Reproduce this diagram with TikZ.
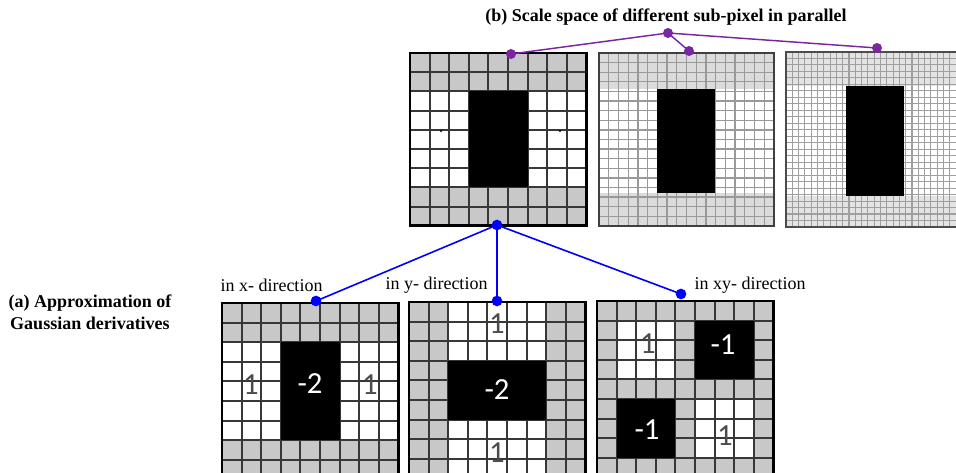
\documentclass[tikz,border=0pt]{standalone}
\usepackage{fontspec}
\setmainfont{Liberation Serif}
\newfontfamily\cellfont{Carlito}
\usepackage{xcolor}
\usetikzlibrary{positioning}
\definecolor{linkpurple}{RGB}{122,38,160}
\definecolor{cellgray}{RGB}{200,200,200}
\definecolor{gridline}{RGB}{55,55,55}

\begin{document}
\begin{tikzpicture}[
    x=0.75pt, y=-0.75pt,
    dirtext/.style={font=\fontsize{13.5}{16}\selectfont, inner sep=0pt},
    captext/.style={font=\fontsize{13.5}{16.5}\selectfont\bfseries, align=center, inner sep=0pt},
    num/.style={font=\cellfont\fontsize{23}{23}\selectfont, inner sep=0pt},
    pdot/.style={circle, fill=linkpurple, minimum size=7.5pt, inner sep=0pt},
    bdot/.style={circle, fill=blue, minimum size=8pt, inner sep=0pt},
    plink/.style={linkpurple, line width=1.1pt},
    blink/.style={blue, line width=1.2pt},
    cellline/.style={gridline, line width=1.5pt}
]
    \useasboundingbox (0,0) rectangle (956,473);
    \clip (0,0) rectangle (956,473);

    % Scale space, pixel size 1
    \fill[cellgray] (410,53) rectangle (586.4,91.4);
    \fill[cellgray] (410,187.4) rectangle (586.4,225.8);
    \foreach \i in {1,...,8} {
        \draw[cellline] (410+\i*19.6,53) -- (410+\i*19.6,225.8);
        \draw[cellline] (410,53+\i*19.2) -- (586.4,53+\i*19.2);
    }
    \fill (468.8,91.4) rectangle (527.6,187.4);
    \fill (441,131) circle (1.2);
    \fill (560,131) circle (1.2);
    \draw[black, line width=2pt] (410,53) rectangle (586.4,225.8);

    % Scale space, pixel size 1/2
    \fill[gray!28] (599,53) rectangle (774,89);
    \fill[gray!28] (599,193) rectangle (774,226);
    \foreach \i in {1,...,17} {
        \draw[gray!80, line width=1pt] (599+\i*9.72,53) -- (599+\i*9.72,226);
        \draw[gray!80, line width=1pt] (599,53+\i*9.61) -- (774,53+\i*9.61);
    }
    \fill (657,89) rectangle (715,193);
    \draw[black!75, line width=1.6pt] (599,53) rectangle (774,226);

    % Scale space, pixel size 1/3
    \fill[gray!22] (786,52) rectangle (956,86);
    \fill[gray!22] (786,196) rectangle (956,227);
    \foreach \i in {1,...,26} {
        \draw[gray!75, line width=0.8pt] (786+\i*6.3,52) -- (786+\i*6.3,227);
        \draw[gray!75, line width=0.8pt] (786,52+\i*6.48) -- (956,52+\i*6.48);
    }
    \fill (846,86) rectangle (904,196);
    \draw[black!70, line width=1.3pt] (786,52) rectangle (960,227);

    % Second derivative in x
    \fill[cellgray] (222,303) rectangle (398.4,342.2);
    \fill[cellgray] (222,440.2) rectangle (398.4,479.4);
    % Second derivative in y
    \fill[cellgray] (409,302) rectangle (448.2,478.4);
    \fill[cellgray] (546.2,302) rectangle (585.4,478.4);
    % Mixed derivative
    \fill[cellgray] (597,301) rectangle (773.4,477.4);
    \fill[white] (616.6,320.6) rectangle (675.4,379.4);
    \fill[white] (695,399) rectangle (753.8,457.8);

    \foreach \gx/\gy in {222/303, 409/302, 597/301} {
        \foreach \i in {1,...,8} {
            \draw[cellline] (\gx+\i*19.6,\gy) -- (\gx+\i*19.6,\gy+176.4);
            \draw[cellline] (\gx,\gy+\i*19.6) -- (\gx+176.4,\gy+\i*19.6);
        }
    }
    \fill (280.8,342.2) rectangle (339.6,440.2);
    \fill (448.2,360.8) rectangle (546.2,419.6);
    \fill (695,320.6) rectangle (753.8,379.4);
    \fill (616.6,399) rectangle (675.4,457.8);
    \foreach \gx/\gy in {222/303, 409/302, 597/301}
        \draw[black, line width=2pt] (\gx,\gy) rectangle (\gx+176.4,\gy+176.4);

    \node[num, black!70] (kx1) at (251,385) {1};
    \node[num, white] (kx2) at (310,384) {-2};
    \node[num, black!70] (kx3) at (370,385) {1};
    \node[num, black!70] (ky1) at (497,324) {1};
    \node[num, white] (ky2) at (497,390) {-2};
    \node[num, black!70] (ky3) at (497,453) {1};
    \node[num, black!70] (kxy1) at (648,344) {1};
    \node[num, white] (kxy2) at (723,345) {-1};
    \node[num, white] (kxy3) at (647,430) {-1};
    \node[num, black!70] (kxy4) at (725,436) {1};

    % Captions
    \node[captext] (capB) at (666,17) {(b) Scale space of different sub-pixel in parallel};
    \node[captext] (capA) at (90,312) {(a) Approximation of\\Gaussian derivatives};
    \node[dirtext] (dirx) at (271.5,285) {in x- direction};
    \node[dirtext] (diry) at (436.5,285) {in y- direction};
    \node[dirtext] (dirxy) at (750,285) {in xy- direction};

    % Purple links
    \node[pdot] (hubB) at (668,33) {};
    \node[pdot] (s1) at (511,54) {};
    \node[pdot] (s2) at (689,51) {};
    \node[pdot] (s3) at (877,48) {};
    \draw[plink] (hubB.center) -- (s1.center);
    \draw[plink] (hubB.center) -- (s2.center);
    \draw[plink] (hubB.center) -- (s3.center);

    % Blue links
    \node[bdot] (hubA) at (497,225) {};
    \node[bdot] (dx) at (316,301) {};
    \node[bdot] (dy) at (497,301) {};
    \node[bdot] (dxy) at (681,294) {};
    \draw[blink] (hubA.center) -- (dx.center);
    \draw[blink] (hubA.center) -- (dy.center);
    \draw[blink] (hubA.center) -- (dxy.center);
\end{tikzpicture}
\end{document}
